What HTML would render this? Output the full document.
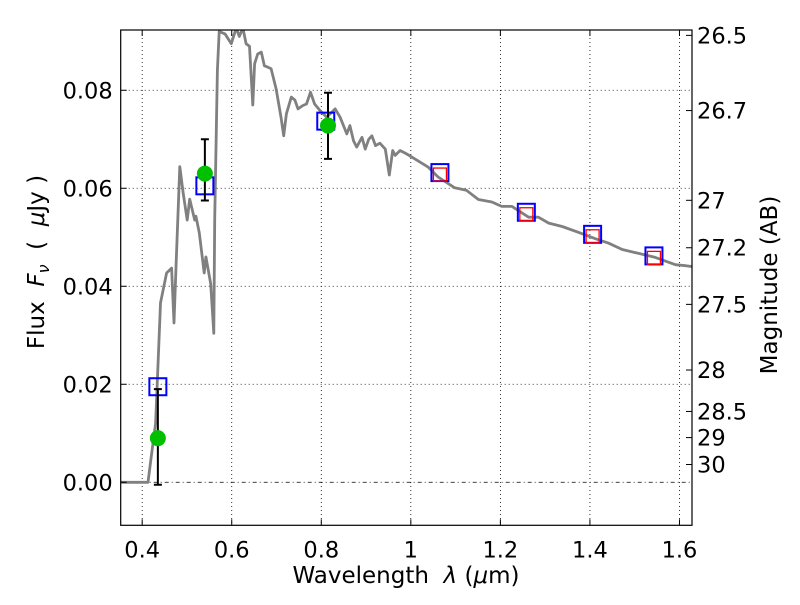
<!DOCTYPE html>
<html><head><meta charset="utf-8"><style>
body{margin:0;background:#fff;}
svg text{font-family:"DejaVu Sans","Liberation Sans",sans-serif;fill:#000;}
</style></head><body>
<svg id="chart" width="800" height="600" viewBox="0 0 800 600" xmlns="http://www.w3.org/2000/svg">
<rect width="800" height="600" fill="#fff"/>
<g id="grid"></g>
<g id="series"></g>
<rect x="120.7" y="30" width="571.3" height="495.3" fill="none" stroke="#000" stroke-width="1.2"/>
<g id="axes"></g>
<text x="406" y="583" font-size="23" text-anchor="middle">Wavelength&#160; <tspan font-style="italic">λ</tspan> (<tspan font-style="italic">μ</tspan>m)</text>
<text transform="translate(44,262) rotate(-90)" font-size="23" text-anchor="middle">Flux&#160; <tspan font-style="italic">F</tspan><tspan font-style="italic" font-size="16" dy="5">ν</tspan><tspan dy="-5">&#160; (&#160; </tspan><tspan font-style="italic">μ</tspan>Jy )</text>
<text transform="translate(777,285) rotate(-90)" font-size="23" text-anchor="middle">Magnitude (AB)</text>
</svg>
<script>
const xTicks=[0.4,0.6,0.8,1.0,1.2,1.4,1.6];
const xTickLabels=["0.4","0.6","0.8","1","1.2","1.4","1.6"];
const yTicks=[0,0.02,0.04,0.06,0.08];
const yTickLabels=["0.00","0.02","0.04","0.06","0.08"];
const magTicks=[26.5,26.7,27,27.2,27.5,28,28.5,29,30];
const magTickLabels=["26.5","26.7","27","27.2","27.5","28","28.5","29","30"];
const specLam=[0.35,0.413,0.42,0.43,0.44,0.441,0.4545,0.4656,0.471,0.476,0.484,0.4917,0.5006,0.506,0.5173,0.52,0.5275,0.5386,0.5424,0.553,0.56,0.562,0.568,0.572,0.585,0.599,0.61,0.617,0.625,0.632,0.6397,0.647,0.651,0.658,0.666,0.673,0.681,0.688,0.699,0.71,0.716,0.722,0.733,0.741,0.748,0.759,0.767,0.776,0.785,0.797,0.812,0.831,0.842,0.857,0.864,0.872,0.879,0.891,0.898,0.906,0.913,0.921,0.931,0.943,0.952,0.9596,0.965,0.976,0.991,1.009,1.039,1.061,1.098,1.124,1.151,1.181,1.203,1.226,1.263,1.285,1.308,1.338,1.375,1.412,1.442,1.472,1.509,1.546,1.591,1.614,1.63];
const specFlux=[0,0,0.005,0.012,0.0345,0.0366,0.0427,0.0437,0.0325,0.045,0.0644,0.059,0.0535,0.0578,0.0535,0.0543,0.0509,0.0427,0.046,0.0405,0.0304,0.0535,0.0841,0.092,0.0915,0.0895,0.093,0.091,0.093,0.0895,0.089,0.077,0.0854,0.0874,0.0878,0.085,0.0847,0.0844,0.0803,0.0745,0.0707,0.0752,0.0786,0.078,0.0762,0.0769,0.0772,0.0796,0.0772,0.0759,0.0745,0.0762,0.0745,0.0711,0.0728,0.0697,0.0684,0.0704,0.068,0.07,0.0707,0.0687,0.0692,0.068,0.0627,0.0677,0.0667,0.0677,0.067,0.066,0.0643,0.0623,0.0601,0.0596,0.0577,0.0572,0.0563,0.0563,0.0541,0.0541,0.0529,0.0522,0.051,0.0497,0.0488,0.0475,0.0467,0.0459,0.0444,0.0442,0.044];
const obsLam=[0.435,0.54,0.815];
const obsFlux=[0.009,0.063,0.0728];
const obsLo=[-0.0005,0.0575,0.066];
const obsHi=[0.019,0.070,0.0795];
const modLam=[0.435,0.54,0.81,1.065,1.258,1.406,1.543];
const modFlux=[0.0195,0.0605,0.0737,0.0632,0.0551,0.0506,0.0462];
const redLam=[1.065,1.258,1.406,1.543];
const redFlux=[0.0628,0.0547,0.0502,0.0458];

const NS="http://www.w3.org/2000/svg";
const X0=120.7,X1=692,Y0=30,Y1=525.3,LMIN=0.352,LMAX=1.628,FMIN=-0.00878,FMAX=0.0923;
function sx(l){return X0+(l-LMIN)/(LMAX-LMIN)*(X1-X0);}
function sy(f){return Y1-(f-FMIN)/(FMAX-FMIN)*(Y1-Y0);}
function magToFlux(m){return Math.pow(10,-(m-23.9)/2.5);}
function mk(tag,attrs,parent){const e=document.createElementNS(NS,tag);for(const k in attrs)e.setAttribute(k,attrs[k]);parent.appendChild(e);return e;}
const grid=document.getElementById('grid'),axes=document.getElementById('axes'),ser=document.getElementById('series');
xTicks.forEach((t,i)=>{const x=sx(t);
 const g=mk('line',{x1:x,x2:x,y1:Y0,y2:Y1,stroke:'#000','stroke-width':0.8,'stroke-dasharray':'1,3'},grid);
 
 
 const a=mk('line',{x1:x,x2:x,y1:Y1,y2:Y1-6,stroke:'#000'},axes);
 
 
 const b=mk('line',{x1:x,x2:x,y1:Y0,y2:Y0+6,stroke:'#000'},axes);
 
 
 const tx=mk('text',{x:x,y:Y1+32,'font-size':22.5,'text-anchor':'middle'},axes);tx.textContent=xTickLabels[i];
 
 
});
yTicks.forEach((t,i)=>{const y=sy(t);
 const g=mk('line',{x1:X0,x2:X1,y1:y,y2:y,stroke:'#000','stroke-width':0.8,'stroke-dasharray':t===0?'4,3,1,3':'1,3'},grid);
 
 
 const a=mk('line',{x1:X0,x2:X0+6,y1:y,y2:y,stroke:'#000'},axes);
 
 
 const tx=mk('text',{x:X0-8,y:y+8,'font-size':22.5,'text-anchor':'end'},axes);tx.textContent=yTickLabels[i];
 
 
});
magTicks.forEach((m,i)=>{const y=sy(magToFlux(m));
 const a=mk('line',{x1:X1,x2:X1-6,y1:y,y2:y,stroke:'#000'},axes);
 
 
 const tx=mk('text',{x:X1+5,y:y+8,'font-size':22.5},axes);tx.textContent=magTickLabels[i];
 
 
});
const pts=specLam.map((l,i)=>sx(l).toFixed(1)+','+Math.max(sy(specFlux[i]),Y0-2).toFixed(1)).join(' ');
const cp=mk('clipPath',{id:'clip'},ser);mk('rect',{x:X0,y:Y0,width:X1-X0,height:Y1-Y0},cp);
const sp=mk('polyline',{points:pts,fill:'none',stroke:'#808080','stroke-width':2.8,'stroke-linejoin':'round','clip-path':'url(#clip)'},ser);


modLam.forEach((l,i)=>{const x=sx(l),y=sy(modFlux[i]);
 const r=mk('rect',{x:x-8.5,y:y-8.5,width:17,height:17,fill:'none',stroke:'#0000ff','stroke-width':2},ser);
 
 
});
redLam.forEach((l,i)=>{const x=sx(l),y=sy(redFlux[i]);
 const r=mk('rect',{x:x-6.5,y:y-6.5,width:13,height:13,fill:'none',stroke:'#ff0000','stroke-width':1.3},ser);
 
 
});
obsLam.forEach((l,i)=>{const x=sx(l);
 const e=mk('path',{d:`M${x},${sy(obsLo[i])}V${sy(obsHi[i])}M${x-4},${sy(obsLo[i])}h8M${x-4},${sy(obsHi[i])}h8`,stroke:'#000','stroke-width':2,fill:'none'},ser);
 
 
 const c=mk('circle',{cx:x,cy:sy(obsFlux[i]),r:8,fill:'#00c000'},ser);
 
 
});
</script>
</body></html>
